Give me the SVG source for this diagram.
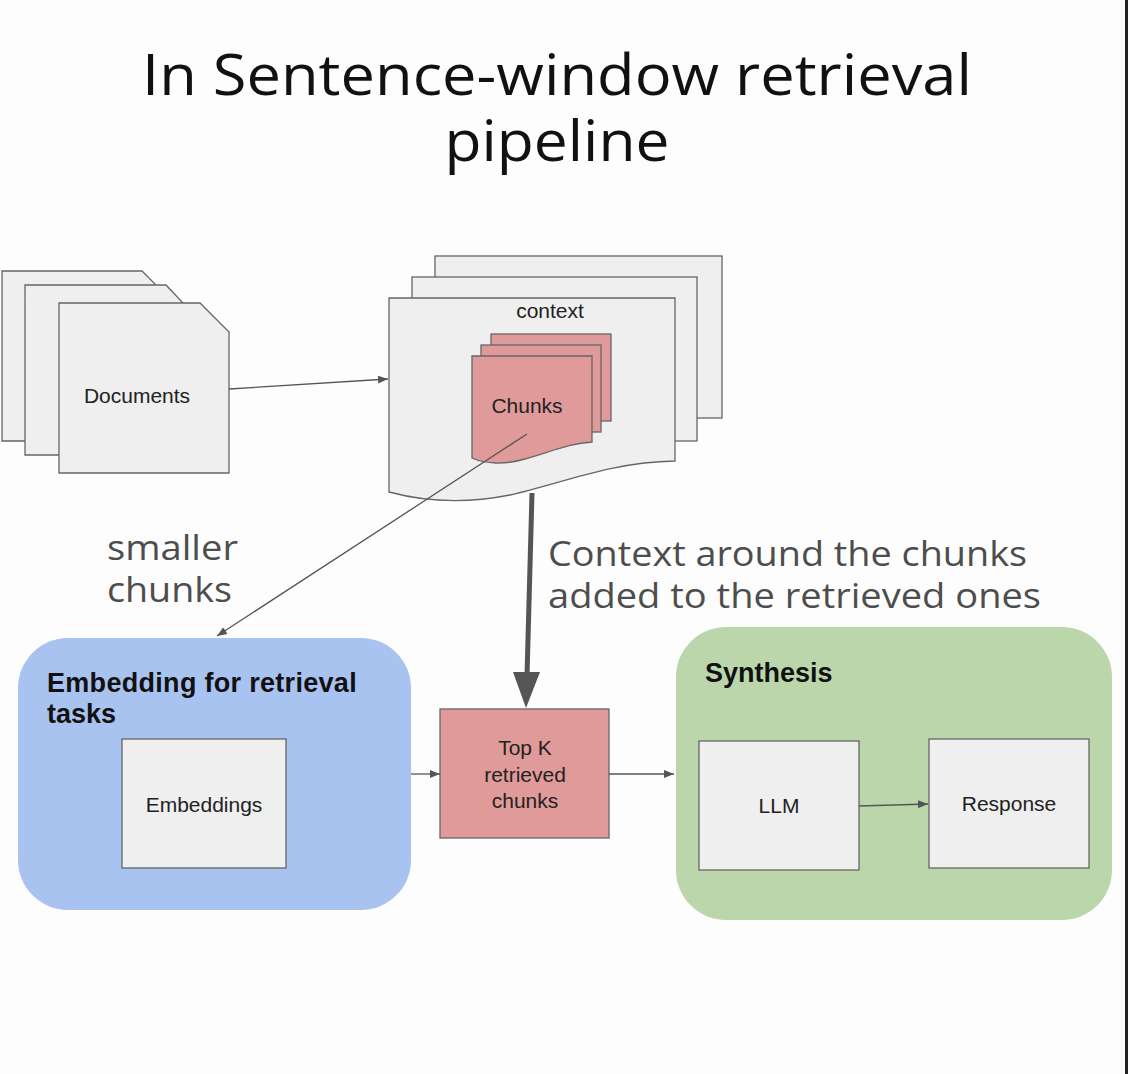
<svg xmlns="http://www.w3.org/2000/svg" width="1128" height="1074" viewBox="0 0 1128 1074">
<defs>
<style>
.pg{fill:#efefef;stroke:#666;stroke-width:1.3}
.ck{fill:#e09a9a;stroke:#666;stroke-width:1.3}
.lb{font-family:"Liberation Sans",Arial,sans-serif;font-size:21px;fill:#222;text-anchor:middle}
.hd{font-family:"Liberation Sans",Arial,sans-serif;font-size:27px;font-weight:bold;fill:#111}
.gr{font-family:"Open Sans","Noto Sans",sans-serif;font-size:34px;fill:#4d4d4d}
.tt{font-family:"Open Sans","Noto Sans",sans-serif;font-size:56px;fill:#111;text-anchor:middle}
.ln{stroke:#555;stroke-width:1.3;fill:none}
</style>
<marker id="ah" viewBox="0 0 10 10" refX="10" refY="5" markerWidth="10" markerHeight="10" markerUnits="userSpaceOnUse" orient="auto">
<path d="M0,1 L10,5 L0,9 z" fill="#555"/>
</marker>
</defs>
<rect x="0" y="0" width="1128" height="1074" fill="#fdfdfd"/>
<rect x="1125" y="0" width="3" height="1074" fill="#222"/>

<g id="title">
<text class="tt" x="557" y="95" textLength="830" lengthAdjust="spacingAndGlyphs">In Sentence-window retrieval</text>
<text class="tt" x="557" y="161" textLength="225" lengthAdjust="spacingAndGlyphs">pipeline</text>
</g>

<g id="documents">
<path class="pg" d="M2,271 H142 L155,284 V441 H2 Z"/>
<path class="pg" d="M25,285 H166 L183,303 V455 H25 Z"/>
<path class="pg" d="M59,303 H200 L229,332 V473 H59 Z"/>
<text class="lb" x="137" y="403">Documents</text>
</g>

<g id="context">
<rect class="pg" x="435" y="256" width="287" height="162"/>
<rect class="pg" x="412" y="277" width="285" height="164"/>
<path class="pg" d="M389,298 H675 V461 C610,462 560,484 510,495 C470,503 430,503 389,492 Z"/>
<text class="lb" x="550" y="318">context</text>
</g>

<g id="chunks">
<rect class="ck" x="491" y="334" width="120" height="87"/>
<rect class="ck" x="481" y="345" width="120" height="87"/>
<path class="ck" d="M472,356 H592 V442 C570,443 550,452 525,459 C505,465 485,464 472,458 Z"/>
<text class="lb" x="527" y="413">Chunks</text>
</g>

<g id="embedding-group">
<rect x="18" y="638" width="393" height="272" rx="50" ry="50" fill="#a9c3f0"/>
<text class="hd" x="47" y="692" letter-spacing="0.3">Embedding for retrieval</text>
<text class="hd" x="47" y="723">tasks</text>
</g>
<g id="embeddings">
<rect class="pg" x="122" y="739" width="164" height="129"/>
<text class="lb" x="204" y="812">Embeddings</text>
</g>

<g id="topk">
<rect class="ck" x="440" y="709" width="169" height="129"/>
<text class="lb" x="525" y="755">Top K</text>
<text class="lb" x="525" y="782">retrieved</text>
<text class="lb" x="525" y="808">chunks</text>
</g>

<g id="synthesis-group">
<rect x="676" y="627" width="436" height="293" rx="50" ry="50" fill="#bcd6ac"/>
<text class="hd" x="705" y="682">Synthesis</text>
</g>
<g id="llm">
<rect class="pg" x="699" y="741" width="160" height="129"/>
<text class="lb" x="779" y="813">LLM</text>
</g>
<g id="response">
<rect class="pg" x="929" y="739" width="160" height="129"/>
<text class="lb" x="1009" y="811">Response</text>
</g>

<g id="labels">
<text class="gr" x="107" y="560" textLength="131" lengthAdjust="spacingAndGlyphs">smaller</text>
<text class="gr" x="107" y="602" textLength="125" lengthAdjust="spacingAndGlyphs">chunks</text>
<text class="gr" x="548" y="566" textLength="479" lengthAdjust="spacingAndGlyphs">Context around the chunks</text>
<text class="gr" x="548" y="608" textLength="493" lengthAdjust="spacingAndGlyphs">added to the retrieved ones</text>
</g>

<g id="connectors">
<line class="ln" x1="229" y1="389" x2="388" y2="379" marker-end="url(#ah)"/>
<line class="ln" x1="527" y1="434" x2="217" y2="636" marker-end="url(#ah)"/>
<line x1="532" y1="493" x2="527" y2="676" stroke="#555" stroke-width="5"/>
<polygon points="513,672 540,672 526,708" fill="#555"/>
<line class="ln" x1="411" y1="774" x2="440" y2="774" marker-end="url(#ah)"/>
<line class="ln" x1="609" y1="774" x2="674" y2="774" marker-end="url(#ah)"/>
<line class="ln" x1="859" y1="806" x2="928" y2="804" marker-end="url(#ah)"/>
</g>
</svg>
